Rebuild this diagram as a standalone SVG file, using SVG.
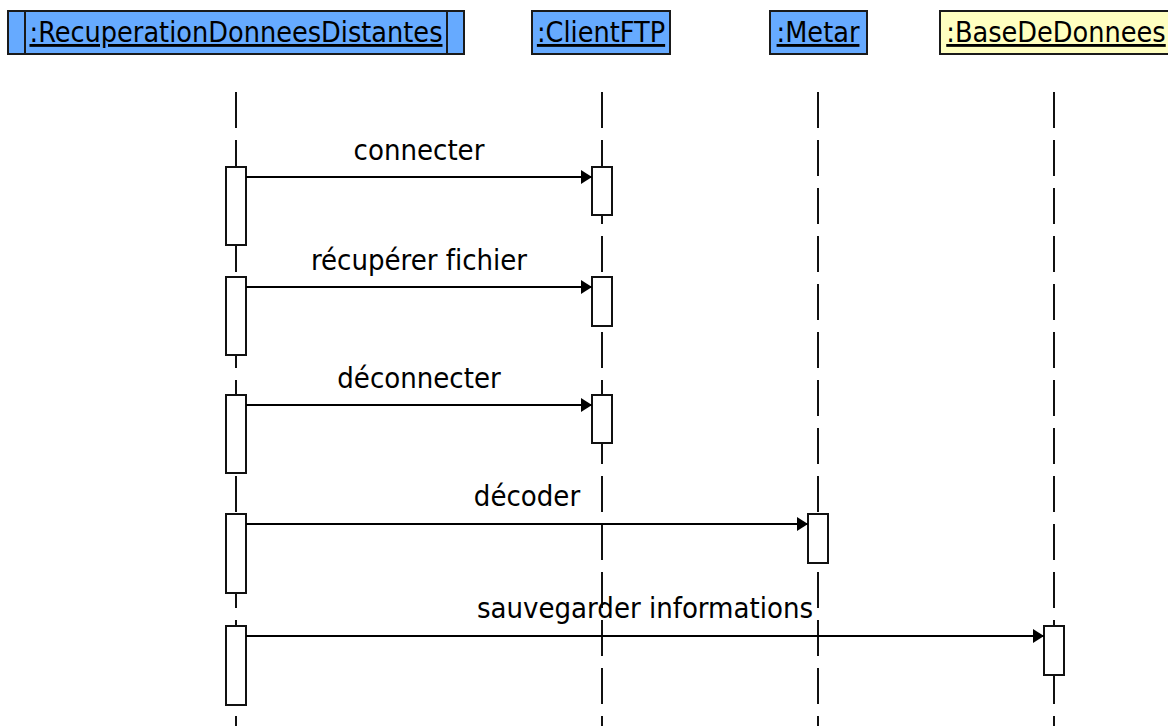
<svg xmlns="http://www.w3.org/2000/svg" width="1168" height="726" viewBox="0 0 1168 726">
<defs>
<style>
.hdr{stroke:#1a1a1a;stroke-width:2}
.blue{fill:#66aaff}
.yellow{fill:#ffffc0}
.ht{font-family:"DejaVu Sans Condensed","DejaVu Sans",sans-serif;font-size:28.5px;fill:#000;text-anchor:middle;text-decoration:underline;font-variant-ligatures:none}
.life{stroke:#111;stroke-width:2;stroke-dasharray:36 12;fill:none}
.act{fill:#fff;stroke:#111;stroke-width:2}
.msg{stroke:#000;stroke-width:2;fill:none;marker-end:url(#arr)}
.lbl{font-family:"DejaVu Sans Condensed","DejaVu Sans",sans-serif;font-size:29px;fill:#000;text-anchor:middle;font-variant-ligatures:none}
</style>
<marker id="arr" viewBox="0 0 11 14" refX="11" refY="7" markerWidth="11" markerHeight="14" markerUnits="userSpaceOnUse" orient="auto">
<path d="M0,0 L11,7 L0,14 Z" fill="#000"/>
</marker>
</defs>
<rect width="1168" height="726" fill="#fff"/>
<g id="lifelines">
<line class="life" x1="236" y1="92" x2="236" y2="726"/>
<line class="life" x1="602" y1="92" x2="602" y2="726"/>
<line class="life" x1="818" y1="92" x2="818" y2="726"/>
<line class="life" x1="1054" y1="92" x2="1054" y2="726"/>
</g>
<g id="node-rdd">
<rect class="hdr blue" x="8" y="11" width="456" height="43"/>
<line class="hdr" x1="25" y1="11" x2="25" y2="54"/>
<line class="hdr" x1="447" y1="11" x2="447" y2="54"/>
<text class="ht" x="236" y="42">:RecuperationDonneesDistantes</text>
</g>
<g id="node-clientftp">
<rect class="hdr blue" x="532" y="11" width="138" height="43"/>
<text class="ht" x="601" y="42">:ClientFTP</text>
</g>
<g id="node-metar">
<rect class="hdr blue" x="770" y="11" width="97" height="43"/>
<text class="ht" x="818" y="42">:Metar</text>
</g>
<g id="node-bdd">
<rect class="hdr yellow" x="940" y="11" width="232" height="43"/>
<text class="ht" x="1056" y="42">:BaseDeDonnees</text>
</g>
<g id="activations">
<rect class="act" x="226" y="167" width="20" height="78"/>
<rect class="act" x="226" y="277" width="20" height="78"/>
<rect class="act" x="226" y="395" width="20" height="78"/>
<rect class="act" x="226" y="514" width="20" height="79"/>
<rect class="act" x="226" y="626" width="20" height="79"/>
<rect class="act" x="592" y="167" width="20" height="48"/>
<rect class="act" x="592" y="277" width="20" height="49"/>
<rect class="act" x="592" y="395" width="20" height="48"/>
<rect class="act" x="808" y="514" width="20" height="49"/>
<rect class="act" x="1044" y="626" width="20" height="49"/>
</g>
<g id="connectors">
<line class="msg" x1="246" y1="177" x2="592" y2="177"/>
<line class="msg" x1="246" y1="287" x2="592" y2="287"/>
<line class="msg" x1="246" y1="405" x2="592" y2="405"/>
<line class="msg" x1="246" y1="524" x2="808" y2="524"/>
<line class="msg" x1="246" y1="636" x2="1044" y2="636"/>
<text class="lbl" x="419" y="160">connecter</text>
<text class="lbl" x="419" y="270">récupérer fichier</text>
<text class="lbl" x="419" y="388">déconnecter</text>
<text class="lbl" x="527" y="506">décoder</text>
<text class="lbl" x="645" y="618">sauvegarder informations</text>
</g>
</svg>
